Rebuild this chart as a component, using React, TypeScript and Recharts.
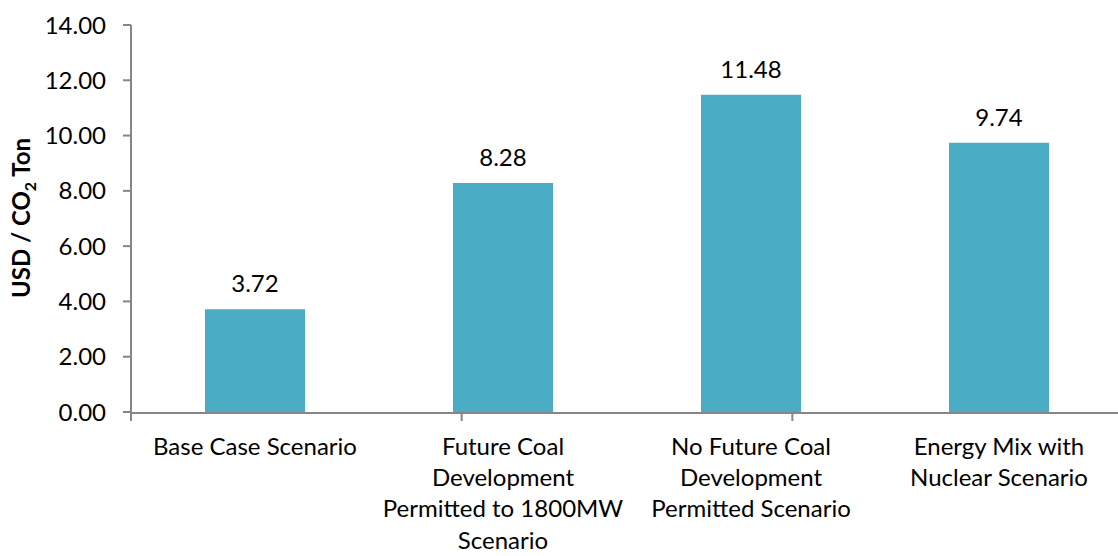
import { BarChart, Bar, XAxis, YAxis, LabelList } from 'recharts'

const categories = [
  'Base Case Scenario',
  'Future Coal\nDevelopment\nPermitted to 1800MW\nScenario',
  'No Future Coal\nDevelopment\nPermitted Scenario',
  'Energy Mix with\nNuclear Scenario',
]
const costs = [3.72, 8.28, 11.48, 9.74]
const yTicks = [0, 2, 4, 6, 8, 10, 12, 14]
const boundaryTicks = [0, 1, 2, 3, 4]

const data = categories.map((name, i) => ({ name, cost: costs[i] }))

const FONT = 'Lato, "Open Sans", sans-serif'
const FS = 24
const AXIS = '#868686'
const BAR = '#4bacc6'

function CategoryTick(props: any) {
  const { x, y, payload } = props
  const lines = String(payload.value).split('\n')
  return (
    <text x={x} y={y} textAnchor="middle" fill="#000" fontSize={FS} fontFamily={FONT}>
      {lines.map((line, i) => (
        <tspan key={i} x={x} dy={i === 0 ? 35 : 31.2}>
          {line}
        </tspan>
      ))}
    </text>
  )
}

function YLabel() {
  return (
    <text
      transform="translate(30, 218) rotate(-90)"
      textAnchor="middle"
      fontSize={FS}
      fontWeight="bold"
      fontFamily={FONT}
      fill="#000"
    >
      USD / CO<tspan fontSize={16} dy={6}>2</tspan>
      <tspan dy={-6}> Ton</tspan>
    </text>
  )
}

export default function App() {
  return (
    <div
      style={{
        position: 'fixed',
        top: 0,
        left: 0,
        width: 1118,
        height: 556,
        overflow: 'hidden',
        background: '#fff',
      }}
    >
      <BarChart
        width={1123}
        height={556}
        data={data}
        margin={{ top: 25, right: 0, bottom: 142, left: 0 }}
        style={{ overflow: 'visible' }}
      >
        <XAxis
          xAxisId="edges"
          type="number"
          domain={[0, 4]}
          ticks={boundaryTicks}
          height={1}
          axisLine={{ stroke: AXIS, strokeWidth: 2 }}
          tickLine={{ stroke: AXIS, strokeWidth: 2 }}
          tickSize={8}
          tickFormatter={() => ''}
          allowDataOverflow
        />
        <XAxis
          xAxisId="cat"
          dataKey="name"
          height={1}
          axisLine={false}
          tickLine={false}
          tick={<CategoryTick />}
          interval={0}
        />
        <YAxis
          width={131}
          domain={[0, 14]}
          ticks={yTicks}
          interval={0}
          tickFormatter={(v: number) => v.toFixed(2)}
          tick={{ fill: '#000', fontSize: FS, fontFamily: FONT }}
          tickSize={8}
          tickMargin={17}
          axisLine={{ stroke: AXIS, strokeWidth: 2 }}
          tickLine={{ stroke: AXIS, strokeWidth: 2 }}
          label={<YLabel />}
        />
        <Bar xAxisId="cat" dataKey="cost" fill={BAR} barSize={100} isAnimationActive={false}>
          <LabelList
            dataKey="cost"
            position="top"
            offset={17}
            formatter={(v: any) => Number(v).toFixed(2)}
            fill="#000"
            fontSize={FS}
            fontFamily={FONT}
          />
        </Bar>
      </BarChart>
    </div>
  )
}
